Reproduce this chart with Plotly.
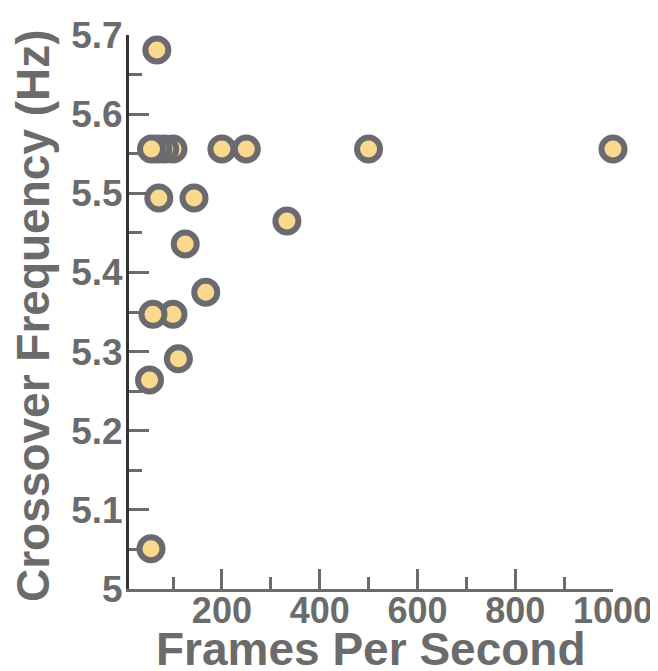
import plotly.graph_objects as go

# Frames per second (x) and crossover frequency in Hz (y)
fps = [1000, 500, 333, 250, 200, 167, 143, 125, 111, 100, 100, 83, 71, 69, 67, 59, 56, 55, 52]
freq = [5.556, 5.556, 5.465, 5.556, 5.556, 5.375, 5.494, 5.436, 5.291, 5.556, 5.347,
        5.556, 5.494, 5.556, 5.681, 5.347, 5.556, 5.051, 5.264]

x_ticks = [200, 400, 600, 800, 1000]
x_minor = [100, 300, 500, 700, 900]
y_ticks = [5, 5.1, 5.2, 5.3, 5.4, 5.5, 5.6, 5.7]
y_minor = [5.05, 5.15, 5.25, 5.35, 5.45, 5.55, 5.65]
x_title = "Frames Per Second"
y_title = "Crossover Frequency (Hz)"

GRAY = "#6b6b6b"
FONT = "Liberation Sans, Arial, sans-serif"

fig = go.Figure(
    go.Scatter(
        x=fps,
        y=freq,
        mode="markers",
        marker=dict(size=23, color="#fad98f", line=dict(color="#6a6a70", width=6)),
        cliponaxis=False,
        showlegend=False,
    )
)

# page body has an 8px margin, so the figure is sized/margined to compensate
fig.update_layout(
    width=650,
    height=663,
    margin=dict(l=121, r=45, t=27, b=82),
    paper_bgcolor="white",
    plot_bgcolor="white",
    font=dict(family=FONT, color=GRAY),
)

fig.update_xaxes(
    range=[10, 1000],
    automargin=False,
    tickmode="array",
    tickvals=x_ticks,
    ticktext=[str(v) for v in x_ticks],
    ticks="inside",
    ticklen=20,
    tickwidth=3,
    tickcolor=GRAY,
    minor=dict(tickmode="array", tickvals=x_minor, ticks="inside",
               ticklen=12, tickwidth=3, tickcolor=GRAY),
    showline=True,
    linecolor=GRAY,
    linewidth=3,
    showgrid=False,
    zeroline=False,
    ticklabelstandoff=-12,
    tickfont=dict(family=FONT, size=36, color=GRAY, weight="bold"),
)

fig.update_yaxes(
    range=[5, 5.7],
    automargin=False,
    tickmode="array",
    tickvals=y_ticks,
    ticktext=[("%g" % v) for v in y_ticks],
    ticks="inside",
    ticklen=20,
    tickwidth=3,
    tickcolor=GRAY,
    minor=dict(tickmode="array", tickvals=y_minor,
               ticks="inside", ticklen=13, tickwidth=3, tickcolor=GRAY),
    showline=True,
    linecolor="#333333",
    linewidth=3,
    showgrid=False,
    zeroline=False,
    ticklabelstandoff=-4,
    tickfont=dict(family=FONT, size=37, color=GRAY, weight="bold"),
)

fig.add_annotation(
    text=x_title, xref="paper", yref="paper", x=0.5, y=0,
    xanchor="center", yanchor="middle", yshift=-60, showarrow=False,
    font=dict(family=FONT, size=46, color=GRAY, weight="bold"),
)
fig.add_annotation(
    text=y_title, xref="paper", yref="paper", x=0, y=0.5,
    xanchor="center", yanchor="middle", xshift=-96, yshift=-4, textangle=-90,
    showarrow=False,
    font=dict(family=FONT, size=46, color=GRAY, weight="bold"),
)

fig.write_html("out.html")
